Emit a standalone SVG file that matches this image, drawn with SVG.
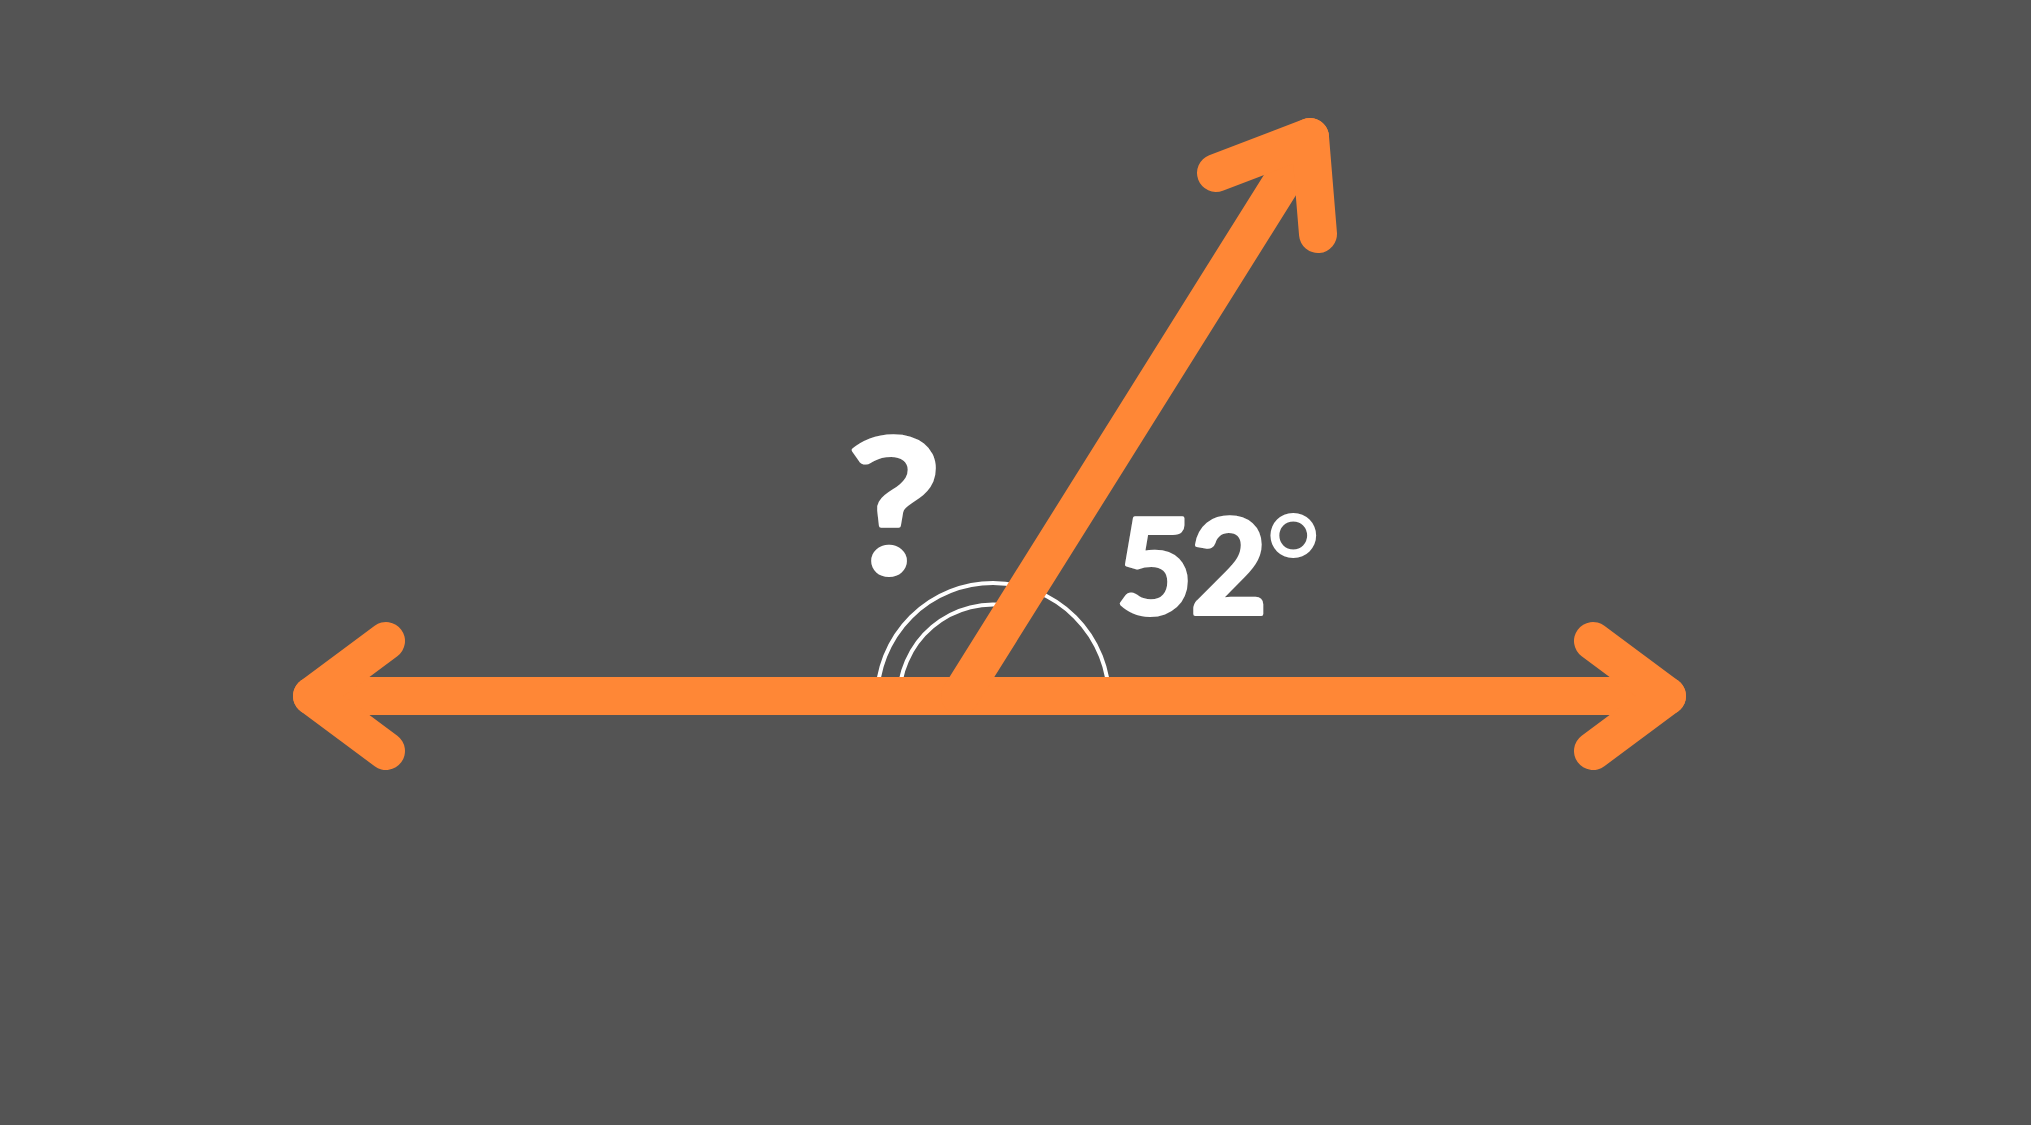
<svg xmlns="http://www.w3.org/2000/svg" width="2031" height="1125" viewBox="0 0 2031 1125">
<style>
.ray{fill:none;stroke:#FF8736;stroke-width:38;stroke-linecap:round;stroke-linejoin:round}
.arc{fill:none;stroke:#FFFFFF;stroke-width:4}
.lbl{font-family:Lato,"Liberation Sans",Arial,sans-serif;font-weight:bold;fill:#FFFFFF;stroke:#FFFFFF;stroke-width:4;stroke-linejoin:round}
.thin{stroke:none;font-weight:normal}
</style>
<rect width="2031" height="1125" fill="#545454"/>
<g id="angle-marks">
<path class="arc" d="M877 699 A116 116 0 0 1 1109 699"/>
<path class="arc" d="M899 699 A94 94 0 0 1 1009 606"/>
</g>
<g id="connectors">
<polyline class="ray" points="312,696 1667,696"/>
<polyline class="ray" points="386,641 312,696 386,751"/>
<polyline class="ray" points="1593,641 1667,696 1593,751"/>
<polyline class="ray" points="960,696 1310,137"/>
<polyline class="ray" points="1216,173 1310,137 1318,234"/>
</g>
<g id="label-unknown"><text class="lbl" x="0" y="0" font-size="188" text-anchor="middle" transform="translate(894,574) scale(1.1,1)">?</text></g>
<g id="label-52"><text class="lbl" x="1116" y="614" font-size="133" letter-spacing="-3">52<tspan class="thin" font-size="140">°</tspan></text></g>
</svg>
